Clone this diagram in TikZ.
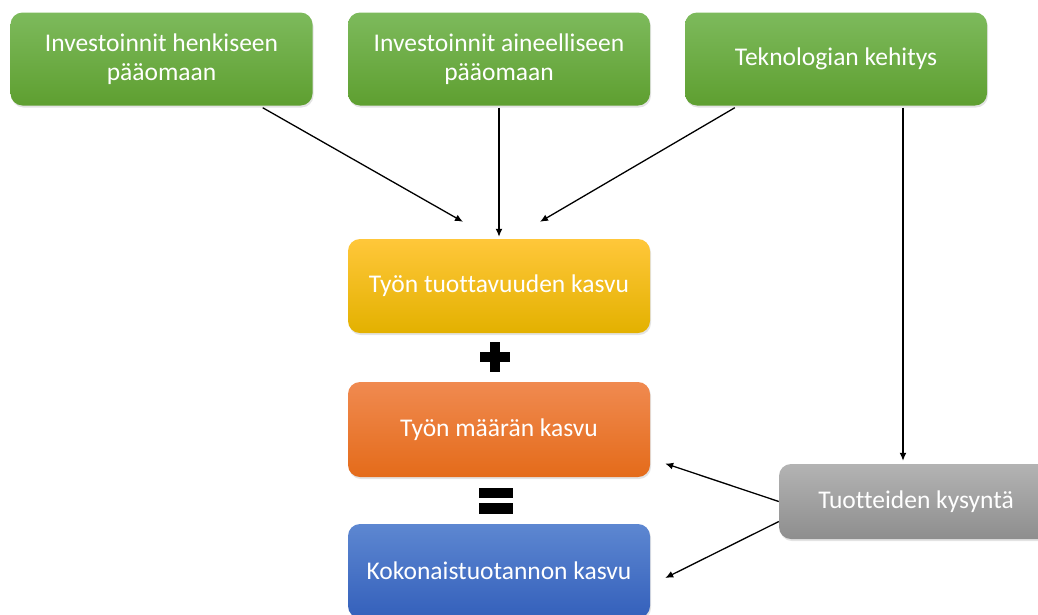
\documentclass[tikz,border=0pt]{standalone}
\usepackage{fontspec}
\setmainfont[Ligatures={NoCommon}]{Carlito}
\usetikzlibrary{shadows,arrows.meta}
\definecolor{gtop}{HTML}{7DBA5C}
\definecolor{gbot}{HTML}{5E9F30}
\definecolor{ytop}{HTML}{FFC73A}
\definecolor{ybot}{HTML}{E3B100}
\definecolor{otop}{HTML}{F08A50}
\definecolor{obot}{HTML}{E46B1A}
\definecolor{btop}{HTML}{5D87D1}
\definecolor{bbot}{HTML}{3460BB}
\definecolor{ktop}{HTML}{B3B3B3}
\definecolor{kbot}{HTML}{8E8E8E}
\begin{document}
\begin{tikzpicture}[x=1pt,y=-1pt,
  box/.style={rounded corners=12pt, minimum width=302pt, minimum height=93pt,
    text=white, font=\fontsize{25.5}{29.5}\selectfont, align=center, inner sep=0pt,
    drop shadow={opacity=0.22, shadow xshift=1pt, shadow yshift=-2pt}},
  green/.style={box, top color=gtop, bottom color=gbot},
  arr/.style={line width=1.3pt, -{Latex[length=8pt,width=7pt]}}]
\useasboundingbox (0,0) rectangle (1038,614);
\clip (0,0) rectangle (1038,614);
\node[green] (g1) at (161.5,59) {Investoinnit henkiseen\\pääomaan};
\node[green] (g2) at (499,59) {Investoinnit aineelliseen\\pääomaan};
\node[green] (g3) at (836,59) {Teknologian kehitys};
\node[box, minimum height=94pt, top color=ytop, bottom color=ybot] (y) at (499,286) {Työn tuottavuuden kasvu};
\node[box, minimum height=95pt, top color=otop, bottom color=obot] (o) at (499,429.5) {Työn määrän kasvu};
\node[box, minimum height=94pt, top color=btop, bottom color=bbot] (b) at (499,571) {Kokonaistuotannon kasvu};
\node[box, minimum width=274pt, minimum height=75pt, top color=ktop, bottom color=kbot] (gr) at (916,501.5) {Tuotteiden kysyntä};
% plus and equals
\fill (480,352) rectangle (510,362);
\fill (490,342) rectangle (500,372);
\fill (479,488) rectangle (513,498);
\fill (479,503) rectangle (513,514);
% arrows
\draw[arr] ([xshift=-50pt,yshift=-2pt]g1.south east) -- ([xshift=-36pt,yshift=17pt]y.north);
\draw[arr] ([yshift=-2pt]g2.south) -- ([yshift=2pt]y.north);
\draw[arr] ([xshift=50pt,yshift=-2pt]g3.south west) -- ([xshift=41pt,yshift=17pt]y.north);
\draw[arr] ([xshift=67pt,yshift=-2pt]g3.south) -- ([xshift=-13pt,yshift=3pt]gr.north);
\draw[arr] (gr.west) -- ([xshift=15pt,yshift=-34pt]o.east);
\draw[arr] ([yshift=-20pt]gr.west) -- ([xshift=15pt,yshift=-7pt]b.east);
\end{tikzpicture}
\end{document}
